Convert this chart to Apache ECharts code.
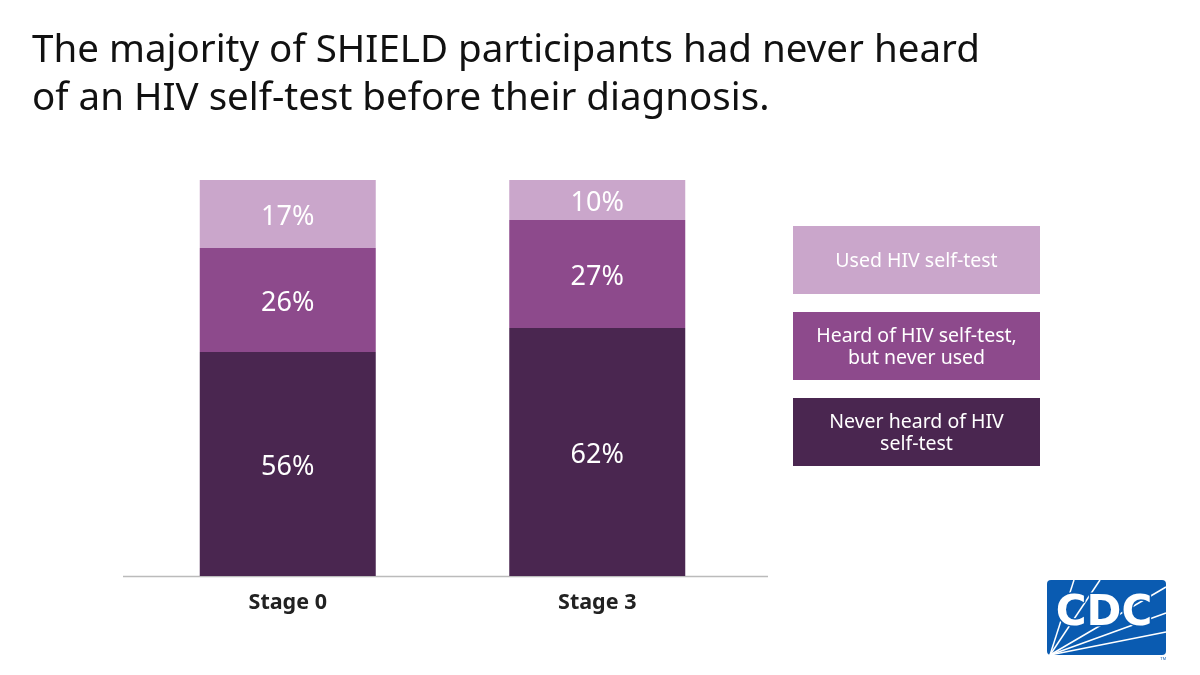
<!DOCTYPE html>
<html>
<head>
<meta charset="utf-8">
<script src="https://cdn.jsdelivr.net/npm/echarts@6/dist/echarts.min.js"></script>
<style>
  html, body { margin: 0; padding: 0; background: #fff; }
  #chart { width: 1200px; height: 675px; }
</style>
</head>
<body>
<div id="chart"></div>
<script>
  // data
  var stages = ['Stage 0', 'Stage 3'];
  var neverHeard = [56, 62];
  var heardNotUsed = [26, 27];
  var usedSelfTest = [17, 10];
  var seriesNames = ['Never heard of HIV\nself-test', 'Heard of HIV self-test,\nbut never used', 'Used HIV self-test'];
  var colors = ['#4a2650', '#8d4a8c', '#caa6cb'];

  var font = '"Noto Sans"';
  var chart = echarts.init(document.getElementById('chart'));

  function barSeries(name, values, color) {
    return {
      name: name,
      type: 'bar',
      stack: 'total',
      barWidth: 176,
      data: values,
      itemStyle: { color: color },
      label: {
        show: true,
        position: 'inside',
        offset: [0, 3],
        color: '#fff',
        fontFamily: font,
        fontSize: 27,
        formatter: '{c}%'
      }
    };
  }

  // legend boxes, top to bottom: light, medium, dark
  var legendItems = [];
  var order = [2, 1, 0];
  var boxTops = [226, 312, 398];
  order.forEach(function (k, i) {
    legendItems.push({
      type: 'rect',
      left: 793,
      top: boxTops[i],
      shape: { width: 247, height: 68 },
      style: { fill: colors[k] }
    });
    legendItems.push({
      type: 'text',
      x: 916.5,
      y: boxTops[i] + 35,
      style: {
        text: seriesNames[k],
        fill: '#fff',
        font: '19.5px ' + font,
        align: 'center',
        verticalAlign: 'middle',
        lineHeight: 22
      }
    });
  });

  // CDC logo
  var logo = [
    {
      type: 'rect',
      shape: { x: 1047, y: 580, width: 119, height: 75, r: 4 },
      style: { fill: '#0a5bb1' }
    }
  ];
  var rayEnds = [[1074, 580], [1100, 580], [1166, 587], [1166, 613], [1166, 632]];
  rayEnds.forEach(function (p) {
    logo.push({
      type: 'line',
      shape: { x1: 1050, y1: 655, x2: p[0], y2: p[1] },
      style: { stroke: '#fff', lineWidth: 1.5 }
    });
  });
  logo.push({
    type: 'text',
    x: 1104,
    y: 614,
    style: {
      text: 'CDC',
      fill: '#fff',
      stroke: '#0a5bb1',
      lineWidth: 3,
      font: 'bold 42px "DejaVu Sans"',
      align: 'center',
      verticalAlign: 'middle'
    }
  });
  logo.push({
    type: 'text',
    x: 1166,
    y: 657,
    style: { text: 'TM', fill: '#0a5bb1', font: '4px sans-serif', align: 'right' }
  });

  var option = {
    backgroundColor: '#fff',
    animation: false,
    title: {
      text: 'The majority of SHIELD participants had never heard\nof an HIV self-test before their diagnosis.',
      left: 27,
      top: 22,
      textStyle: {
        fontFamily: font,
        fontSize: 38.5,
        fontWeight: 'normal',
        color: '#111',
        lineHeight: 48
      }
    },
    grid: { left: 133, right: 448, top: 176, bottom: 99 },
    xAxis: {
      type: 'category',
      data: stages,
      axisLine: { show: false },
      axisTick: { show: false },
      axisLabel: {
        margin: 16,
        fontFamily: font,
        fontWeight: 'bold',
        fontSize: 21.5,
        color: '#222'
      }
    },
    yAxis: {
      type: 'value',
      min: 0,
      max: 100,
      show: false
    },
    series: [
      barSeries(seriesNames[0], neverHeard, colors[0]),
      barSeries(seriesNames[1], heardNotUsed, colors[1]),
      barSeries(seriesNames[2], usedSelfTest, colors[2])
    ],
    graphic: [
      {
        type: 'line',
        shape: { x1: 123, y1: 576.5, x2: 768, y2: 576.5 },
        style: { stroke: '#bbb', lineWidth: 1.5 }
      }
    ].concat(legendItems, logo)
  };

  chart.setOption(option);
</script>
</body>
</html>
